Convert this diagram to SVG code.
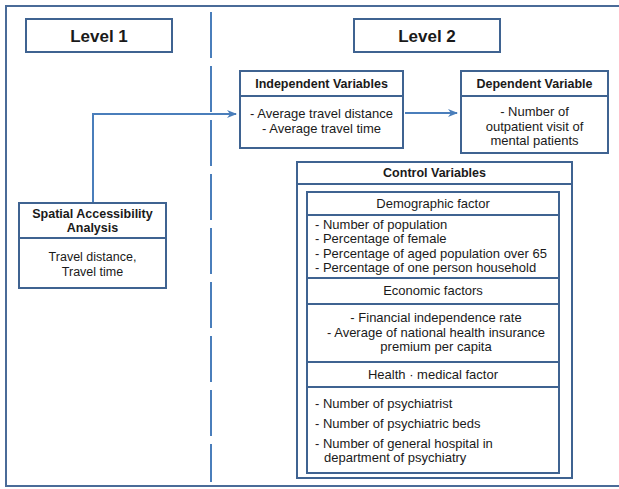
<svg xmlns="http://www.w3.org/2000/svg" width="619" height="489" viewBox="0 0 619 489">
<defs>
<marker id="ah" markerWidth="10" markerHeight="10" refX="9" refY="5" orient="auto" markerUnits="userSpaceOnUse">
<path d="M0,1 L10,5 L0,9 L3,5 Z" fill="#4a7ebb"/>
</marker>
</defs>
<style>
.box{fill:#fff;stroke:#3f6391;stroke-width:2}
.div{stroke:#3f6391;stroke-width:2;fill:none}
.con{stroke:#4a7ebb;stroke-width:2;fill:none}
text{font-family:"Liberation Sans",Arial,sans-serif;fill:#1a1a1a;font-size:13px}
.lv{font-size:17px;font-weight:bold;text-anchor:middle}
.hd{font-size:12.5px;font-weight:bold;text-anchor:middle}
.c{text-anchor:middle}
.sm{font-size:12.5px}
</style>
<rect x="0" y="0" width="619" height="489" fill="#fff"/>
<path d="M630,6 L6,6 L6,486 L630,486" fill="none" stroke="#4a6b98" stroke-width="2"/>
<g id="connectors">
<line x1="211" y1="12" x2="211" y2="482" stroke="#4a7ebb" stroke-width="2" stroke-dasharray="46 8"/>
<path class="con" d="M93,203 L93,114 L236,114" marker-end="url(#ah)"/>
<line class="con" x1="405" y1="113" x2="457" y2="113" marker-end="url(#ah)"/>
</g>
<g id="level1">
<rect class="box" x="26" y="19" width="146" height="33"/>
<text class="lv" x="99" y="42">Level 1</text>
</g>
<g id="level2">
<rect class="box" x="354" y="19" width="146" height="33"/>
<text class="lv" x="427" y="42">Level 2</text>
</g>
<g id="independent">
<rect class="box" x="240" y="71" width="163" height="77"/>
<line class="div" x1="240" y1="96" x2="403" y2="96"/>
<text class="hd" x="321.5" y="88">Independent Variables</text>
<text class="c" x="321.5" y="118">-  Average travel distance</text>
<text class="c" x="321.5" y="133">-  Average travel time</text>
</g>
<g id="dependent">
<rect class="box" x="461" y="71" width="147" height="82"/>
<line class="div" x1="461" y1="96" x2="608" y2="96"/>
<text class="hd" x="534.5" y="88">Dependent Variable</text>
<text class="c" x="534.5" y="116">- Number of</text>
<text class="c" x="534.5" y="131">outpatient visit of</text>
<text class="c" x="534.5" y="145">mental patients</text>
</g>
<g id="spatial">
<rect class="box" x="19" y="203" width="147" height="85"/>
<line class="div" x1="19" y1="238" x2="166" y2="238"/>
<text class="hd" x="92.5" y="218">Spatial Accessibility</text>
<text class="hd" x="92.5" y="232">Analysis</text>
<text class="c sm" x="92.5" y="261">Travel distance,</text>
<text class="c sm" x="92.5" y="276">Travel time</text>
</g>
<g id="control">
<rect class="box" x="297" y="162" width="275" height="316"/>
<line class="div" x1="297" y1="184" x2="572" y2="184"/>
<text class="hd" x="434.5" y="177">Control Variables</text>
<rect class="box" x="307" y="192" width="252" height="281"/>
<line class="div" x1="307" y1="215" x2="559" y2="215"/>
<line class="div" x1="307" y1="278" x2="559" y2="278"/>
<line class="div" x1="307" y1="304" x2="559" y2="304"/>
<line class="div" x1="307" y1="362" x2="559" y2="362"/>
<line class="div" x1="307" y1="387" x2="559" y2="387"/>
<text class="c" x="433" y="208">Demographic factor</text>
<text x="315" y="229">- Number of population</text>
<text x="315" y="243">- Percentage of female</text>
<text x="315" y="258">- Percentage of aged population over 65</text>
<text x="315" y="272">- Percentage of one person household</text>
<text class="c" x="433" y="295">Economic factors</text>
<text class="c" x="436" y="322">- Financial independence rate</text>
<text class="c" x="436" y="337">- Average of national health insurance</text>
<text class="c" x="436" y="351">premium per capita</text>
<text class="c" x="433" y="379">Health · medical factor</text>
<text x="315" y="408">- Number of psychiatrist</text>
<text x="315" y="428">- Number of psychiatric beds</text>
<text x="315" y="448">- Number of general hospital in</text>
<text x="324" y="462">department of psychiatry</text>
</g>
</svg>
